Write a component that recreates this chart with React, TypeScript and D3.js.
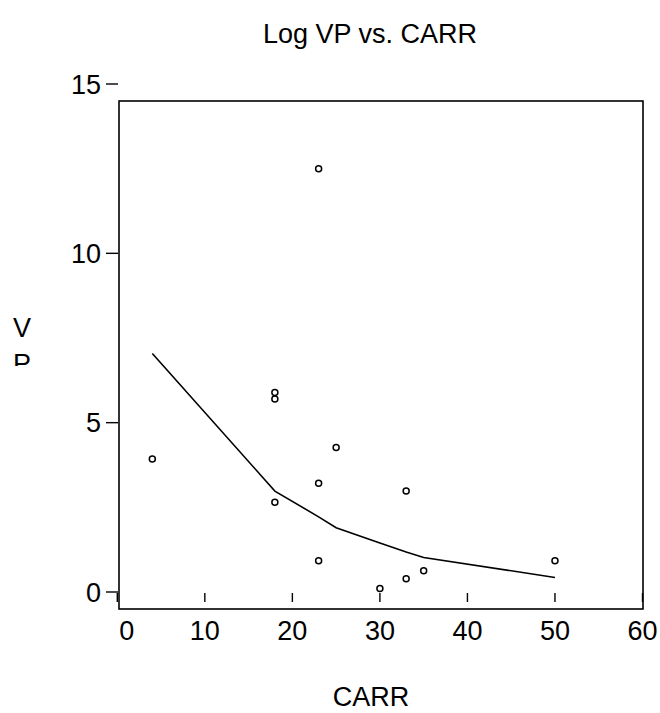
import React from "react";
import * as d3 from "d3";

const title = "Log VP vs. CARR";
const xLabel = "CARR";
const yLabelChars = ["V", "P"];

const carr = [4, 18, 18, 18, 23, 23, 23, 25, 30, 33, 33, 35, 50];
const vp = [3.93, 5.89, 5.7, 2.65, 12.5, 3.21, 0.92, 4.27, 0.1, 2.98, 0.39, 0.63, 0.92];

const fitX = [4, 18, 23, 25, 30, 33, 35, 50];
const fitY = [7.04, 2.98, 2.22, 1.9, 1.45, 1.18, 1.02, 0.43];

const xTicks = [0, 10, 20, 30, 40, 50, 60];
const yTicks = [0, 5, 10, 15];

const W = 660;
const H = 713;
const FONT = "'Liberation Sans', Arial, Helvetica, sans-serif";

export default function App() {
  const x = d3.scaleLinear().domain([0, 60]).range([117.3, 642.5]);
  const y = d3.scaleLinear().domain([0, 15]).range([592, 84]);
  const frame = { left: 119, right: 643, top: 101, bottom: 609 };

  const line = d3
    .line<number>()
    .x((d) => x(d))
    .y((_, i) => y(fitY[i]));

  return (
    <svg
      width={W}
      height={H}
      style={{ position: "absolute", left: 0, top: 0, background: "#fff" }}
      fontFamily={FONT}
    >
      <defs>
        <clipPath id="ylabclip">
          <rect x={0} y={0} width={100} height={366} />
        </clipPath>
      </defs>
      <rect x={0} y={0} width={W} height={H} fill="#fff" />
      <text x={370} y={43} textAnchor="middle" fontSize={27} fill="#000">
        {title}
      </text>
      <rect
        x={frame.left}
        y={frame.top}
        width={frame.right - frame.left}
        height={frame.bottom - frame.top}
        fill="none"
        stroke="#000"
        strokeWidth={1.6}
      />
      {yTicks.map((t) => (
        <g key={"y" + t}>
          <line x1={106} x2={118} y1={y(t)} y2={y(t)} stroke="#000" strokeWidth={1.4} />
          <text x={101} y={y(t) + 9.5} textAnchor="end" fontSize={27} fill="#000">
            {t}
          </text>
        </g>
      ))}
      {xTicks.map((t, i) => (
        <g key={"x" + t}>
          <line x1={x(t)} x2={x(t)} y1={593} y2={602} stroke="#000" strokeWidth={1.4} />
          <text
            x={x(t) + (i === 0 ? 9.5 : 0)}
            y={640}
            textAnchor="middle"
            fontSize={27}
            fill="#000"
          >
            {t}
          </text>
        </g>
      ))}
      <path d={line(fitX) || ""} fill="none" stroke="#000" strokeWidth={1.6} />
      {carr.map((c, i) => (
        <circle
          key={"p" + i}
          cx={x(c)}
          cy={y(vp[i])}
          r={3}
          fill="none"
          stroke="#000"
          strokeWidth={1.5}
        />
      ))}
      <text x={371} y={706} textAnchor="middle" fontSize={27} fill="#000">
        {xLabel}
      </text>
      <g clipPath="url(#ylabclip)">
        {yLabelChars.map((ch, i) => (
          <text key={ch} x={22} y={337} dy={i * 36} textAnchor="middle" fontSize={27} fill="#000">
            {ch}
          </text>
        ))}
      </g>
    </svg>
  );
}
